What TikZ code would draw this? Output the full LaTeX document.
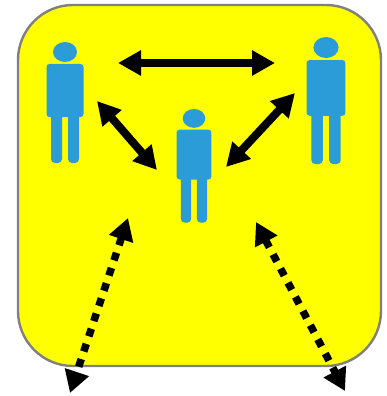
\documentclass[tikz,border=0pt]{standalone}
\usetikzlibrary{arrows.meta}
\definecolor{boxfill}{HTML}{FFFF00}
\definecolor{boxline}{HTML}{808080}
\definecolor{figblue}{HTML}{2B9CD8}

\tikzset{
  link/.style={line width=8pt,{Triangle[length=23pt,width=24pt]}-{Triangle[length=23pt,width=24pt]}},
  farlink/.style={line width=7.5pt,dash pattern=on 8pt off 8pt,{Triangle[length=22pt,width=24pt]}-{Triangle[length=22pt,width=24pt]}},
  personfig/.pic={
    \fill[figblue] (0,10) ellipse[x radius=12,y radius=10];
    \fill[figblue,rounded corners=3pt] (-18.5,22) rectangle (18.5,75);
    \fill[figblue,rounded corners=4pt] (-14,70) rectangle (-3,121);
    \fill[figblue,rounded corners=4pt] (3,70) rectangle (14,121);
  }
}

\begin{document}
\begin{tikzpicture}[x=1pt,y=-1pt,line join=round]
  \useasboundingbox (0,0) rectangle (387,396);
  % Rounded yellow panel.
  \draw[boxline,line width=2.4pt,fill=boxfill,rounded corners=55pt] (18,5) rectangle (381,366);

  % The three people.
  \pic at (65,42) {personfig};
  \pic[scale=0.94] at (194,109) {personfig};
  \pic[scale=1.05] at (326,37) {personfig};

  % Arrow ends.
  \coordinate (topL) at (118,63);
  \coordinate (topR) at (275,63);
  \coordinate (leftA) at (97,101);
  \coordinate (leftB) at (157,170);
  \coordinate (rightA) at (295,93);
  \coordinate (rightB) at (226,167);
  \coordinate (outLa) at (128,218);
  \coordinate (outLb) at (70,393);
  \coordinate (outRa) at (256,222);
  \coordinate (outRb) at (345,391);

  \draw[link] (topL)--(topR);
  \draw[link] (leftA)--(leftB);
  \draw[link] (rightA)--(rightB);
  \draw[farlink] (outLa)--(outLb);
  \draw[farlink] (outRa)--(outRb);
\end{tikzpicture}
\end{document}
